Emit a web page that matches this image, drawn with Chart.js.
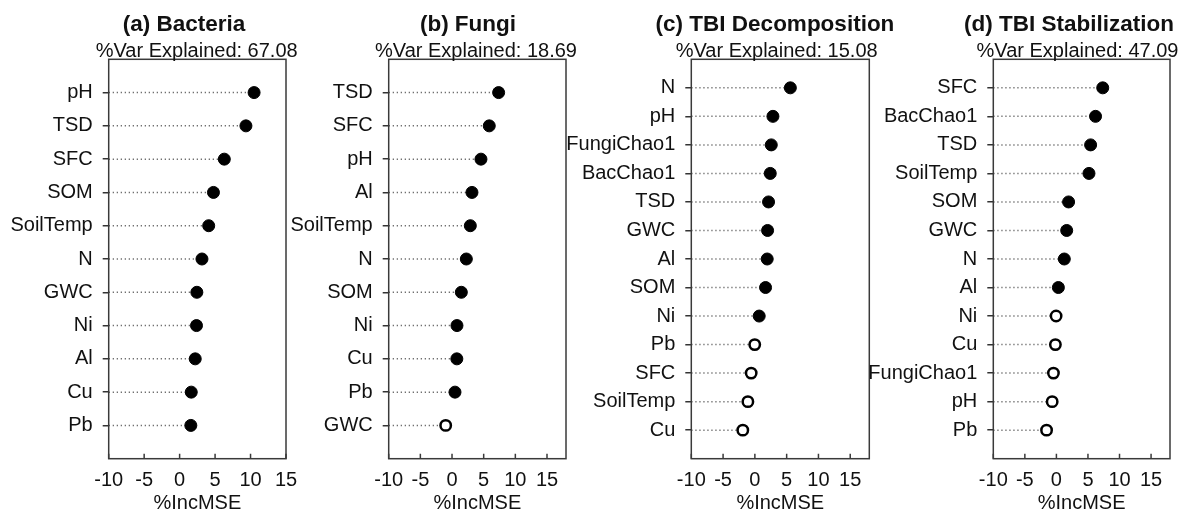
<!DOCTYPE html>
<html>
<head>
<meta charset="utf-8">
<script src="https://cdn.jsdelivr.net/npm/chart.js@4/dist/chart.umd.min.js"></script>
<style>
  html, body { margin: 0; padding: 0; background: #fff; }
  #wrap { position: relative; width: 1178px; height: 513px; overflow: hidden;
          font-family: 'Liberation Sans', Arial, sans-serif; color: #111; }
  #wrap canvas { position: absolute; left: 0; top: 0; }
  .ttl { position: absolute; width: 340px; text-align: center; white-space: nowrap; line-height: 1; }
  .main { font-weight: bold; font-size: 22.5px; }
  .sub { font-size: 20px; }
</style>
</head>
<body>
<div id="wrap"></div>
<script>
// ---- data ----
const xTickValues = [-10, -5, 0, 5, 10, 15];
const panelTitles = ['(a) Bacteria', '(b) Fungi', '(c) TBI Decomposition', '(d) TBI Stabilization'];
const varExplained = ['67.08', '18.69', '15.08', '47.09'];

const bacteriaLabels = ['pH', 'TSD', 'SFC', 'SOM', 'SoilTemp', 'N', 'GWC', 'Ni', 'Al', 'Cu', 'Pb'];
const bacteriaValues = [10.5, 9.35, 6.3, 4.77, 4.1, 3.15, 2.43, 2.38, 2.2, 1.64, 1.58];
const bacteriaSignificant = [true, true, true, true, true, true, true, true, true, true, true];

const fungiLabels = ['TSD', 'SFC', 'pH', 'Al', 'SoilTemp', 'N', 'SOM', 'Ni', 'Cu', 'Pb', 'GWC'];
const fungiValues = [7.36, 5.88, 4.57, 3.15, 2.89, 2.26, 1.47, 0.78, 0.76, 0.47, -1.0];
const fungiSignificant = [true, true, true, true, true, true, true, true, true, true, false];

const decompLabels = ['N', 'pH', 'FungiChao1', 'BacChao1', 'TSD', 'GWC', 'Al', 'SOM', 'Ni', 'Pb', 'SFC', 'SoilTemp', 'Cu'];
const decompValues = [5.58, 2.84, 2.58, 2.42, 2.15, 2.0, 1.94, 1.68, 0.68, -0.02, -0.58, -1.1, -1.9];
const decompSignificant = [true, true, true, true, true, true, true, true, true, false, false, false, false];

const stabLabels = ['SFC', 'BacChao1', 'TSD', 'SoilTemp', 'SOM', 'GWC', 'N', 'Al', 'Ni', 'Cu', 'FungiChao1', 'pH', 'Pb'];
const stabValues = [7.34, 6.2, 5.42, 5.16, 1.93, 1.63, 1.25, 0.31, -0.05, -0.16, -0.47, -0.67, -1.56];
const stabSignificant = [true, true, true, true, true, true, true, true, false, false, false, false, false];

// ---- layout ----
const W = 1178, H = 513;
const BOX_TOP = 59.3, BOX_BOTTOM = 458.7;
const TEXT = '#111';
const FONT = { family: "'Liberation Sans', Arial, sans-serif", size: 20 };

const panels = [
  { labels: bacteriaLabels, values: bacteriaValues, sig: bacteriaSignificant, xMax: 15,
    left: 108.7, right: 286.0, titleX: 184, subX: 196.7 },
  { labels: fungiLabels, values: fungiValues, sig: fungiSignificant, xMax: 18,
    left: 388.7, right: 566.0, titleX: 468, subX: 476 },
  { labels: decompLabels, values: decompValues, sig: decompSignificant, xMax: 18,
    left: 691.3, right: 869.3, titleX: 775, subX: 776.7 },
  { labels: stabLabels, values: stabValues, sig: stabSignificant, xMax: 18,
    left: 993.3, right: 1170.0, titleX: 1069, subX: 1077.5 }
];

// frame around the plotting region plus inward x ticks
const framePlugin = {
  id: 'frame',
  afterDraw(chart) {
    const { ctx, chartArea: a, scales: { x } } = chart;
    ctx.save();
    ctx.strokeStyle = '#3a3a3a';
    ctx.lineWidth = 1.5;
    ctx.strokeRect(a.left, a.top, a.right - a.left, a.bottom - a.top);
    ctx.beginPath();
    xTickValues.forEach(v => {
      const px = x.getPixelForValue(v);
      ctx.moveTo(px, a.bottom);
      ctx.lineTo(px, a.bottom - 5);
    });
    ctx.stroke();
    ctx.restore();
  }
};

const wrap = document.getElementById('wrap');

panels.forEach((p, k) => {
  const canvas = document.createElement('canvas');
  canvas.width = W; canvas.height = H;
  wrap.appendChild(canvas);

  const axisW = Math.min(p.left - 2, 135);

  const leaders = [];
  p.values.forEach((v, i) => {
    leaders.push({ x: -10, y: i }, { x: v, y: i }, { x: null, y: null });
  });
  const points = p.values.map((v, i) => ({ x: v, y: i }));

  new Chart(canvas, {
    type: 'scatter',
    data: {
      datasets: [
        {
          type: 'line', data: leaders, borderColor: '#707070', borderWidth: 1.5,
          borderDash: [1.3, 2.7], pointRadius: 0, spanGaps: false, fill: false,
          tension: 0, order: 2
        },
        {
          data: points, order: 1, clip: false,
          pointRadius: p.sig.map(s => s ? 6 : 5.2),
          pointBackgroundColor: p.sig.map(s => s ? '#000' : '#fff'),
          pointBorderColor: '#000',
          pointBorderWidth: p.sig.map(s => s ? 1 : 2.5)
        }
      ]
    },
    options: {
      responsive: false, animation: false, devicePixelRatio: 1,
      events: [],
      layout: { padding: { left: p.left - axisW, right: W - p.right, top: BOX_TOP, bottom: 0 } },
      plugins: { legend: { display: false }, tooltip: { enabled: false } },
      scales: {
        x: {
          type: 'linear', min: -10, max: p.xMax,
          afterBuildTicks: s => { s.ticks = xTickValues.map(v => ({ value: v })); },
          afterFit: s => { s.height = H - BOX_BOTTOM; },
          grid: { display: false, drawTicks: false },
          border: { display: false },
          ticks: { font: FONT, color: TEXT, padding: 10, maxRotation: 0, autoSkip: false },
          title: { display: true, text: '%IncMSE', color: TEXT,
                   font: Object.assign({}, FONT, { lineHeight: 1 }), padding: 0 }
        },
        y: {
          type: 'linear', min: -1, max: p.labels.length, reverse: true,
          afterBuildTicks: s => { s.ticks = p.labels.map((_, i) => ({ value: i })); },
          afterFit: s => { s.width = axisW; },
          grid: { drawOnChartArea: false, drawTicks: true, tickLength: 6, color: '#333', lineWidth: 1.5 },
          border: { display: false },
          ticks: { font: FONT, color: TEXT, padding: 10, autoSkip: false,
                   callback: v => p.labels[v] }
        }
      }
    },
    plugins: [framePlugin]
  });

  const t = document.createElement('div');
  t.className = 'ttl main';
  t.textContent = panelTitles[k];
  t.style.left = (p.titleX - 170) + 'px';
  t.style.top = '13px';
  wrap.appendChild(t);

  const s = document.createElement('div');
  s.className = 'ttl sub';
  s.textContent = '%Var Explained: ' + varExplained[k];
  s.style.left = (p.subX - 170) + 'px';
  s.style.top = '39.5px';
  wrap.appendChild(s);
});
</script>
</body>
</html>
